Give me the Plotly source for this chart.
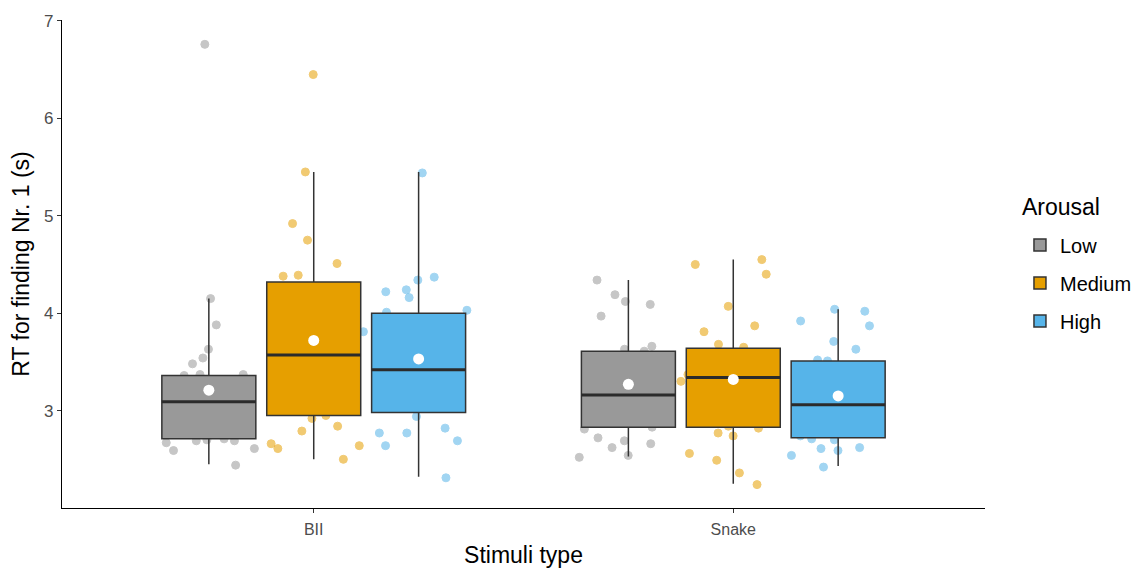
import plotly.graph_objects as go

# ---------------- data ----------------
categories = ["BII", "Snake"]
groups = ["Low", "Medium", "High"]
colors = {"Low": "#999999", "Medium": "#E69F00", "High": "#56B4E9"}

bii_low = [6.76, 4.15, 3.88, 3.63, 3.54, 3.48, 3.37, 3.36, 3.37, 3.09, 3.10, 3.08,
           2.86, 2.69, 2.70, 2.71, 2.69, 2.67, 2.59, 2.61, 2.44, 3.00, 2.90]
bii_medium = [6.45, 5.45, 4.92, 4.75, 4.51, 4.38, 4.39, 3.36, 3.57, 3.57, 2.95, 2.92,
              2.79, 2.84, 2.66, 2.64, 2.61, 2.50, 3.90, 3.20]
bii_high = [5.44, 4.34, 4.37, 4.24, 4.22, 4.16, 4.03, 4.01, 3.81, 3.46, 3.42, 3.42,
            3.36, 2.94, 2.77, 2.82, 2.77, 2.69, 2.64, 2.31, 3.70, 3.10]
snake_low = [4.19, 4.34, 4.09, 4.12, 3.97, 3.63, 3.66, 3.61, 3.16, 3.16, 3.13, 2.83,
             2.81, 2.72, 2.62, 2.54, 2.66, 2.69, 2.52, 3.40, 3.00]
snake_medium = [4.50, 4.55, 4.40, 4.07, 3.87, 3.81, 3.68, 3.65, 3.37, 3.30, 3.34, 3.46,
                2.77, 2.74, 2.82, 2.84, 2.56, 2.49, 2.36, 2.24, 3.10]
snake_high = [4.02, 3.92, 4.04, 3.87, 3.71, 3.63, 3.51, 3.52, 3.46, 2.77, 2.70, 2.71,
              2.59, 2.61, 2.62, 2.54, 2.42, 2.74, 3.06, 3.25]

points = {
    "Low": [bii_low, snake_low],
    "Medium": [bii_medium, snake_medium],
    "High": [bii_high, snake_high],
}

# box statistics per group: [BII, Snake]
q1 = {"Low": [2.71, 2.83], "Medium": [2.95, 2.83], "High": [2.98, 2.72]}
median = {"Low": [3.09, 3.16], "Medium": [3.57, 3.34], "High": [3.42, 3.06]}
q3 = {"Low": [3.36, 3.61], "Medium": [4.32, 3.64], "High": [4.00, 3.51]}
lower_fence = {"Low": [2.45, 2.53], "Medium": [2.50, 2.25], "High": [2.32, 2.43]}
upper_fence = {"Low": [4.15, 4.34], "Medium": [5.45, 4.55], "High": [5.45, 4.04]}
means = {"Low": [3.21, 3.27], "Medium": [3.72, 3.32], "High": [3.53, 3.15]}

y_ticks = [3, 4, 5, 6, 7]

# ---------------- layout helpers ----------------
cat_pos = [1, 2]
dodge = 0.75
box_w = 0.224
offsets = {g: (i - 1) * dodge / 3 for i, g in enumerate(groups)}
outline = "#333333"

fig = go.Figure()

# jittered raw points (behind boxes)
for g in groups:
    xs, ys = [], []
    for ci, c in enumerate(cat_pos):
        for v in points[g][ci]:
            xs.append(c + offsets[g])
            ys.append(v)
    fig.add_trace(go.Box(
        x=xs, y=ys, boxpoints="all", jitter=1, pointpos=0, width=0.28,
        fillcolor="rgba(0,0,0,0)", line=dict(width=0, color="rgba(0,0,0,0)"),
        marker=dict(color=colors[g], opacity=0.55, size=8,
                    line=dict(color=colors[g], width=1)),
        showlegend=False, hoverinfo="y", whiskerwidth=0,
    ))

# boxes
for g in groups:
    fig.add_trace(go.Box(
        name=g, legendgroup=g,
        x=[c + offsets[g] for c in cat_pos],
        q1=q1[g], median=median[g], q3=q3[g],
        lowerfence=lower_fence[g], upperfence=upper_fence[g],
        width=box_w, whiskerwidth=0, boxpoints=False,
        fillcolor=colors[g], line=dict(color=outline, width=1.5),
        showlegend=True,
    ))

# thicker median lines
for g in groups:
    xs, ys = [], []
    for ci, c in enumerate(cat_pos):
        x0 = c + offsets[g]
        xs += [x0 - box_w / 2, x0 + box_w / 2, None]
        ys += [median[g][ci], median[g][ci], None]
    fig.add_trace(go.Scatter(x=xs, y=ys, mode="lines",
                             line=dict(color="#2b2b2b", width=3),
                             showlegend=False, hoverinfo="skip"))

# mean dots
for g in groups:
    fig.add_trace(go.Scatter(
        x=[c + offsets[g] for c in cat_pos], y=means[g], mode="markers",
        marker=dict(color="white", size=11, line=dict(color="white", width=0)),
        showlegend=False, hoverinfo="y",
    ))

font_family = "Liberation Sans, Arial, sans-serif"
fig.update_layout(
    width=1135, height=561,
    margin=dict(l=54, r=158, t=12, b=61, autoexpand=False),
    plot_bgcolor="white", paper_bgcolor="white",
    boxmode="overlay",
    font=dict(family=font_family, color="black"),
    xaxis=dict(
        range=[0.4, 2.6], tickvals=cat_pos, ticktext=categories,
        showline=True, linecolor="black", linewidth=1.2,
        ticks="outside", ticklen=4, tickcolor="#333333",
        tickfont=dict(size=16, color="#4D4D4D"), ticklabelstandoff=3,
        showgrid=False, zeroline=False, automargin=False,
        title=dict(text="Stimuli type", font=dict(size=23), standoff=9),
    ),
    yaxis=dict(
        range=[2.0, 7.01], tickvals=y_ticks,
        showline=True, linecolor="black", linewidth=1.2,
        ticks="outside", ticklen=4, tickcolor="#333333",
        tickfont=dict(size=17, color="#4D4D4D"),
        showgrid=False, zeroline=False, automargin=False,
        title=dict(text="RT for finding Nr. 1 (s)", font=dict(size=23), standoff=8),
    ),
    legend=dict(
        font=dict(size=20), xref="container", yref="container",
        x=0.8916, y=0.6125, xanchor="left", yanchor="top",
        tracegroupgap=9, itemwidth=30, bgcolor="rgba(0,0,0,0)",
    ),
    annotations=[dict(
        text="Arousal", xref="paper", yref="paper", x=1.038, y=0.617,
        xanchor="left", yanchor="middle", showarrow=False,
        font=dict(size=23, color="black"),
    )],
)

fig.write_html("out.html")
